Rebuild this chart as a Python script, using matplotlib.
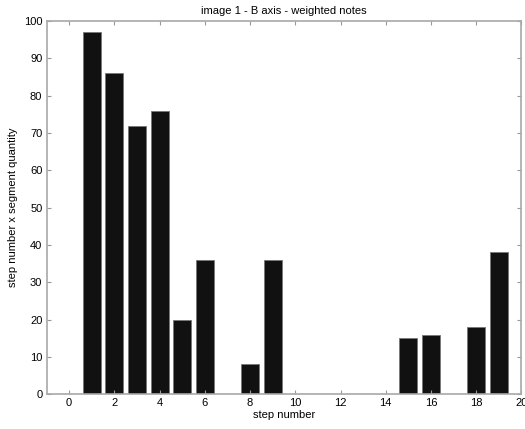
import matplotlib.pyplot as plt

steps = list(range(1, 20))
values = [97, 86, 72, 76, 20, 36, 0, 8, 36, 0, 0, 0, 0, 0, 15, 16, 0, 18, 38]
x_ticks = list(range(0, 21, 2))
y_ticks = list(range(0, 101, 10))

plt.rcParams['font.family'] = ['Liberation Sans', 'DejaVu Sans']
plt.rcParams['font.size'] = 8

fig = plt.figure(figsize=(5.25, 4.29), dpi=100)
ax = fig.add_axes([0.0886, 0.081, 0.9047, 0.870])

ax.bar(steps, values, width=0.8, color='#111111', edgecolor='#777777', linewidth=0.6)

ax.set_xlim(-1, 20)
ax.set_ylim(0, 100)
ax.set_xticks(x_ticks)
ax.set_yticks(y_ticks)
ax.tick_params(direction='in', length=3, color='#999999', top=True, right=True,
               labelsize=8, pad=3)
for s in ax.spines.values():
    s.set_color('#a8a8a8')
    s.set_linewidth(1.2)

ax.set_xlabel('step number', fontsize=8, labelpad=1)
ax.set_ylabel('step number x segment quantity', fontsize=8, labelpad=4)
ax.set_title('image 1 - B axis - weighted notes', fontsize=8, pad=5)

plt.savefig('out.png', dpi=100)
